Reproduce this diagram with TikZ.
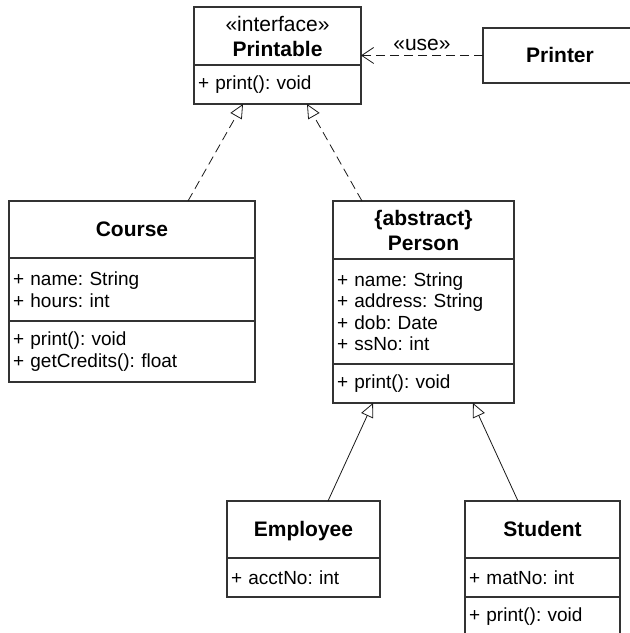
\documentclass[tikz,border=0pt]{standalone}
\usepackage{fontspec}
\setmainfont{Liberation Sans}
\usetikzlibrary{arrows.meta,positioning}
\definecolor{BoxClr}{rgb}{0.2,0.2,0.2}
\definecolor{LinkClr}{rgb}{0.1,0.1,0.1}
\newcommand{\headsize}{\fontsize{21}{25}\selectfont}
\newcommand{\membsize}{\fontsize{19}{21.5}\selectfont}
\frenchspacing

\begin{document}
\begin{tikzpicture}[x=1pt,y=1pt,
  classpart/.style={draw=BoxClr,line width=1.1pt,inner xsep=4pt,inner ysep=0pt,
    outer sep=0pt,align=left,font=\membsize},
  classhead/.style={classpart,align=center,font=\headsize\bfseries},
  namehead/.style={classhead,text height=15pt,text depth=0pt},
  realize/.style={draw=LinkClr,line width=0.8pt,dash pattern=on 9pt off 5pt,
    -{Triangle[open,length=14pt,width=13pt]}},
  inherit/.style={draw=LinkClr,line width=0.8pt,
    -{Triangle[open,length=14pt,width=13pt]}},
  usedep/.style={draw=LinkClr,line width=0.8pt,dash pattern=on 9pt off 5pt,
    -{Straight Barb[length=12pt,width=16pt,line width=0.8pt]}}]
\useasboundingbox (0,0) rectangle (630,633);
\clip (0,0) rectangle (630,633);

% interface and user
\node[classhead,text width=159pt,minimum height=58pt,anchor=north] (printableHead) at (277.5,626)
  {{\mdseries «interface»}\\Printable};
\node[classpart,text width=159pt,minimum height=39pt,below=0pt of printableHead] (printableOps)
  {+ print(): void};

\node[namehead,text width=146pt,minimum height=55pt,anchor=north] (printerHead) at (560,605) {Printer};

% Course
\node[namehead,text width=238pt,minimum height=57pt,anchor=north] (courseHead) at (132,432) {Course};
\node[classpart,text width=238pt,minimum height=63pt,below=0pt of courseHead] (courseAttr)
  {+ name: String\\+ hours: int};
\node[classpart,text width=238pt,minimum height=61pt,below=0pt of courseAttr] (courseOps)
  {+ print(): void\\+ getCredits(): float};

% Person
\node[classhead,text width=173pt,minimum height=58pt,anchor=north] (personHead) at (423.5,432)
  {\{abstract\}\\Person};
\node[classpart,text width=173pt,minimum height=105pt,below=0pt of personHead] (personAttr)
  {+ name: String\\+ address: String\\+ dob: Date\\+ ssNo: int};
\node[classpart,text width=173pt,minimum height=39pt,below=0pt of personAttr] (personOps)
  {+ print(): void};

% Employee
\node[namehead,text width=145pt,minimum height=57pt,anchor=north] (employeeHead) at (303.5,132) {Employee};
\node[classpart,text width=145pt,minimum height=39pt,below=0pt of employeeHead] (employeeAttr)
  {+ acctNo: int};

% Student
\node[namehead,text width=147pt,minimum height=57pt,anchor=north] (studentHead) at (542.5,132) {Student};
\node[classpart,text width=147pt,minimum height=39pt,below=0pt of studentHead] (studentAttr)
  {+ matNo: int};
\node[classpart,text width=147pt,minimum height=39pt,below=0pt of studentAttr] (studentOps)
  {+ print(): void};

\draw[realize] ([xshift=56pt]courseHead.north) -- ([xshift=-34.5pt]printableOps.south);
\draw[realize] ([xshift=-61.5pt]personHead.north) -- ([xshift=29.5pt]printableOps.south);
\draw[inherit] ([xshift=24.5pt]employeeHead.north) -- ([xshift=-50.5pt]personOps.south);
\draw[inherit] ([xshift=-24.5pt]studentHead.north) -- ([xshift=49.5pt]personOps.south);
\draw[usedep] (printerHead.west) -- node[above=1pt,font=\headsize] (useLabel) {«use»}
  (printerHead.west -| printableHead.east);

\end{tikzpicture}
\end{document}
